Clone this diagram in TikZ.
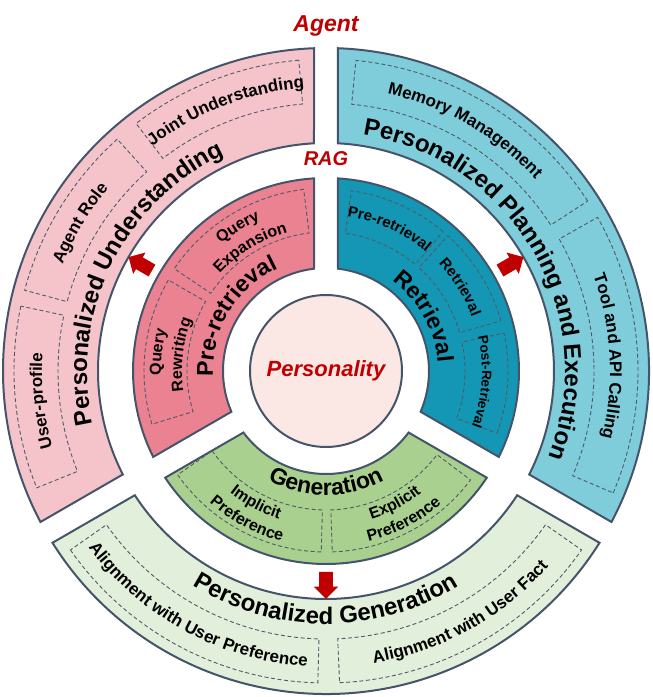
\documentclass[tikz,border=0pt]{standalone}
\usepackage{fontspec}
\setmainfont{Liberation Sans}
\usepackage{xcolor}
\usepackage{tikz}
\usetikzlibrary{decorations.text}
\usetikzlibrary{shapes.arrows}

\definecolor{edgeblue}{HTML}{44546A}
\definecolor{boxgray}{HTML}{4F5B69}
\definecolor{darkred}{HTML}{C00000}
\definecolor{undpink}{HTML}{F5C4CB}
\definecolor{prepink}{HTML}{EA8291}
\definecolor{plancyan}{HTML}{7FCCDB}
\definecolor{retteal}{HTML}{1497B4}
\definecolor{gengreen}{HTML}{A9D08E}
\definecolor{palegreen}{HTML}{E2EFDA}
\definecolor{corepink}{HTML}{FBE7E4}

\newcommand{\outerlbl}{\fontsize{12}{14}\selectfont\bfseries}
\newcommand{\innerlbl}{\fontsize{11.5}{13}\selectfont\bfseries}
\newcommand{\boxlbl}{\fontsize{8.5}{10}\selectfont\bfseries}
\newcommand{\smalllbl}{\fontsize{8}{9}\selectfont\bfseries}
\newcommand{\tinylbl}{\fontsize{7.5}{9}\selectfont\bfseries}
\newcommand{\minilbl}{\fontsize{6.8}{8}\selectfont\bfseries}

% ring piece with straight gaps: fill, start angle, end angle, inner r, outer r
\newcommand{\ringpart}[5]{%
    \pgfmathsetmacro{\gapin}{asin(12/#4)}
    \pgfmathsetmacro{\gapout}{asin(12/#5)}
    \draw[ring, fill=#1] (#2+\gapout:#5) arc[start angle=#2+\gapout, end angle=#3-\gapout, radius=#5]
        -- (#3-\gapin:#4) arc[start angle=#3-\gapin, end angle=#2+\gapin, radius=#4] -- cycle;}
% dashed sub box: start angle, end angle, inner r, outer r
\newcommand{\subbox}[4]{%
    \draw[dashbox] (#1:#4) arc[start angle=#1, end angle=#2, radius=#4]
        -- (#2:#3) arc[start angle=#2, end angle=#1, radius=#3] -- cycle;}

\tikzset{
    ring/.style = {draw=edgeblue, line width=1pt},
    dashbox/.style = {draw=boxgray, line width=0.45pt, dash pattern=on 2pt off 1.3pt},
    curvetext/.style = {decorate, decoration={text along path, text align=center, text={#1}}},
    redarrow/.style = {single arrow, fill=darkred, draw=none, inner xsep=0pt, inner ysep=3.2pt, minimum height=13.5pt, single arrow head extend=2.8pt},
    core/.style = {circle, draw=edgeblue, line width=1pt, fill=corepink, minimum size=76pt, inner sep=0pt, text=darkred, font=\fontsize{11}{13}\selectfont\bfseries\itshape},
    tag/.style = {text=darkred, inner sep=0pt, font=\bfseries\itshape}
}

\begin{document}
\begin{tikzpicture}[x=0.5pt, y=0.5pt]
    \useasboundingbox (-326,-326) rectangle (327,371);

    % Agent ring
    \ringpart{undpink}{90}{210}{228}{323}
    \ringpart{plancyan}{-30}{90}{228}{323}
    \ringpart{palegreen}{210}{330}{228}{323}
    % RAG ring
    \ringpart{prepink}{90}{210}{103}{193}
    \ringpart{retteal}{-30}{90}{103}{193}
    \ringpart{gengreen}{210}{330}{103}{193}

    \node[core] (core) at (0,0) {Personality};
    \node[tag, font=\fontsize{11.5}{13}\selectfont\bfseries\itshape] (agent) at (0,345) {Agent};
    \node[tag, font=\fontsize{10}{12}\selectfont\bfseries\itshape] (rag) at (0,212) {RAG};

    \subbox{95}{127.5}{268}{312}
    \subbox{132}{165}{268}{312}
    \subbox{168}{202}{268}{312}
    \subbox{33}{84.5}{268}{312}
    \subbox{-23}{29.5}{268}{312}
    \subbox{215}{268.5}{268}{312}
    \subbox{272.5}{325}{268}{312}

    \subbox{97}{146}{139}{183}
    \subbox{150}{197}{139}{182}
    \subbox{50}{82}{139}{182}
    \subbox{16}{48}{139}{182}
    \subbox{-20}{12}{139}{182}
    \subbox{215}{268.5}{139}{181}
    \subbox{272}{323}{139}{181}

    \path[curvetext={|\outerlbl|Personalized Understanding}] (209:239) arc[start angle=209, end angle=99, radius=239];
    \path[curvetext={|\outerlbl|Personalized Planning and Execution}] (88:239) arc[start angle=88, end angle=-28, radius=239];
    \path[curvetext={|\outerlbl|Personalized Generation}] (220:253) arc[start angle=220, end angle=320, radius=253];

    \path[curvetext={|\boxlbl|Joint Understanding}] (136:284) arc[start angle=136, end angle=86, radius=284];
    \path[curvetext={|\boxlbl|Agent Role}] (174:284) arc[start angle=174, end angle=124, radius=284];
    \path[curvetext={|\boxlbl|User-profile}] (211:284) arc[start angle=211, end angle=161, radius=284];
    \path[curvetext={|\boxlbl|Memory Management}] (85:284) arc[start angle=85, end angle=35, radius=284];
    \path[curvetext={|\boxlbl|Tool and API Calling}] (28:284) arc[start angle=28, end angle=-22, radius=284];
    \path[curvetext={|\boxlbl|Alignment with User Preference}] (209.5:296) arc[start angle=209.5, end angle=273.5, radius=296];
    \path[curvetext={|\boxlbl|Alignment with User Fact}] (267:296) arc[start angle=267, end angle=331, radius=296];

    \path[curvetext={|\innerlbl|Pre-retrieval}] (199:113) arc[start angle=199, end angle=99, radius=113];
    \path[curvetext={|\innerlbl|Retrieval}] (79:112) arc[start angle=79, end angle=-21, radius=112];
    \path[curvetext={|\innerlbl|Generation}] (220:124) arc[start angle=220, end angle=320, radius=124];

    \path[curvetext={|\smalllbl|Query}] (151.5:165) arc[start angle=151.5, end angle=91.5, radius=165];
    \path[curvetext={|\smalllbl|Expansion}] (151.5:144) arc[start angle=151.5, end angle=91.5, radius=144];
    \path[curvetext={|\smalllbl|Query}] (203.5:165) arc[start angle=203.5, end angle=143.5, radius=165];
    \path[curvetext={|\smalllbl|Rewriting}] (203.5:144) arc[start angle=203.5, end angle=143.5, radius=144];
    \path[curvetext={|\smalllbl|Implicit}] (212:155) arc[start angle=212, end angle=272, radius=155];
    \path[curvetext={|\smalllbl|Preference}] (212:176) arc[start angle=212, end angle=272, radius=176];
    \path[curvetext={|\smalllbl|Explicit}] (267.5:155) arc[start angle=267.5, end angle=327.5, radius=155];
    \path[curvetext={|\smalllbl|Preference}] (267.5:176) arc[start angle=267.5, end angle=327.5, radius=176];

    \path[curvetext={|\tinylbl|Pre-retrieval}] (91:155.5) arc[start angle=91, end angle=41, radius=155.5];
    \path[curvetext={|\tinylbl|Retrieval}] (57:155.5) arc[start angle=57, end angle=7, radius=155.5];
    \path[curvetext={|\minilbl|Post-Retrieval}] (21:156) arc[start angle=21, end angle=-29, radius=156];

    \node[redarrow, rotate=150] (toUnd) at (150:211) {};
    \node[redarrow, rotate=30] (toPlan) at (30:211) {};
    \node[redarrow, rotate=270] (toGen) at (270:211) {};
\end{tikzpicture}
\end{document}
